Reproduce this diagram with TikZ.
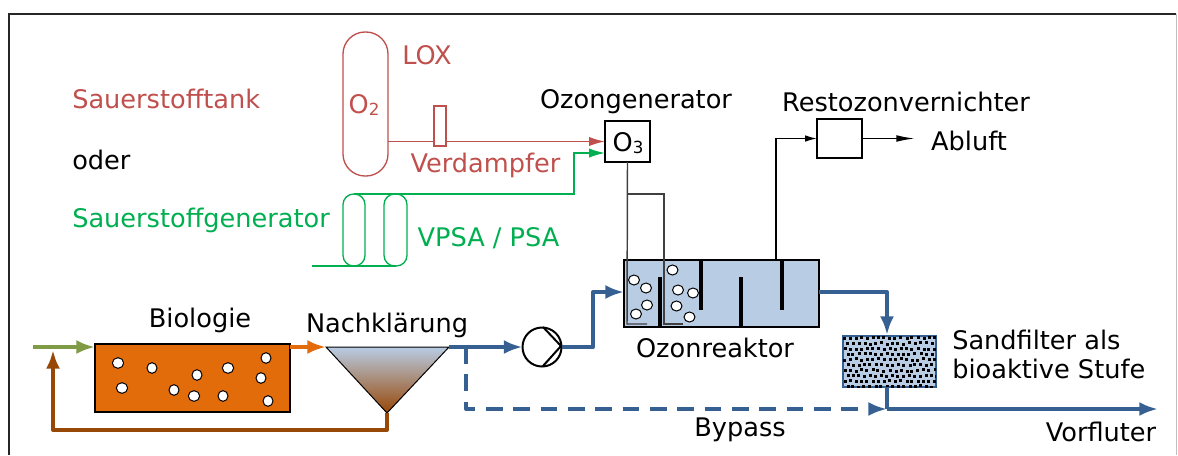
\documentclass[tikz,border=0pt]{standalone}
\usepackage{fontspec}
\setmainfont{DejaVu Sans}
\usetikzlibrary{arrows.meta,calc,shapes.geometric}
\definecolor{ozred}{HTML}{C0504D}
\definecolor{ozgreen}{HTML}{00B050}
\definecolor{ozblue}{HTML}{366092}
\definecolor{ozlight}{HTML}{B8CCE4}
\definecolor{ozorange}{HTML}{E36C0A}
\definecolor{ozbrown}{HTML}{974706}
\definecolor{ozolive}{HTML}{7F9B45}
\newcommand{\lowdigit}[1]{\raisebox{-1pt}{\fontsize{12.5pt}{14pt}\selectfont #1}}
\tikzset{
  lab/.style={inner sep=0pt,font=\fontsize{19.2pt}{23pt}\selectfont,text=#1},
  lab/.default=black,
  box/.style={draw=black,line width=1pt,inner sep=0pt,outer sep=0pt},
  thinarrow/.style={line width=1.1pt,-{Latex[length=12pt,width=7pt]}},
  pipe/.style={line width=3pt,line join=round,draw=ozblue},
  pipearrow/.style={pipe,-{Latex[length=14pt,width=10.5pt]}},
  gasline/.style={line width=1.1pt,draw=black!75},
  baffle/.style={line width=3pt,draw=black},
  bubble/.style={draw=black,fill=white,line width=.75pt,ellipse,inner sep=0pt},
}
\begin{document}
\begin{tikzpicture}[x=.75pt,y=-.75pt]
\useasboundingbox (0,0) rectangle (1178,455);
\fill[white] (0,0) rectangle (1178,455);
% frame
\draw[line width=1.5pt,black!85] (8.5,455) -- (8.5,13.5) -- (1176,13.5);
\draw[line width=.75pt,black!25] (1176,13.5) -- (1176,455);

% oxygen tank
\node[box,draw=ozred,minimum width=33.75pt,minimum height=108pt,rounded corners=16.5pt] (tank) at (365.5,104) {};
\node[lab=ozred] (o2) at (364,105) {O\lowdigit{2}};
\node[lab=ozred,anchor=west] (lox) at (402,55) {LOX};
\node[box,draw=ozred,fill=white,minimum width=9pt,minimum height=30pt] (verd) at (440,126) {};
\node[lab=ozred] (verdl) at (485.5,165) {Verdampfer};
\node[lab=ozred,anchor=west] (st) at (72,99) {Sauerstofftank};
\node[lab,anchor=west] (oder) at (72,160) {oder};
\node[lab=ozgreen,anchor=west] (sg) at (72,220) {Sauerstoffgenerator};
\node[lab=ozgreen] (vpsa) at (488.5,238) {VPSA / PSA};

% ozone generator
\node[box,minimum width=33.75pt,minimum height=30.75pt] (o3) at (627.5,141.5) {};
\node[lab] (o3t) at (628,143) {O\lowdigit{3}};
\node[lab] (ogl) at (636,102) {Ozongenerator};
\draw[ozred,line width=1.1pt] (tank.east |- o3.west) -- (verd.west |- o3.west);
\draw[ozred,thinarrow] (verd.east |- o3.west) -- (o3.west);

% PSA columns
\node[box,draw=ozgreen,minimum width=16.5pt,minimum height=54pt,rounded corners=8pt] (c1) at (354,230) {};
\node[box,draw=ozgreen,minimum width=17.25pt,minimum height=54pt,rounded corners=8pt] (c2) at (395.5,230) {};
\coordinate (gturn) at (574,194);
\coordinate (gturn2) at (574,153);
\coordinate (gfoot) at (312,266);
\draw[ozgreen,line width=1.1pt] (gfoot) -- (c2.south);
\draw[ozgreen,thinarrow] (c1.north) -- (gturn) -- (gturn2) -- (o3.west |- gturn2);

% reactor
\node[box,fill=ozlight,minimum width=146.25pt,minimum height=50.25pt] (reactor) at (721.5,293.5) {};
\coordinate (g1) at (627,324);
\coordinate (g1e) at (647,324);
\coordinate (g2s) at (628,194);
\coordinate (g2a) at (664,194);
\coordinate (g2b) at (664,324);
\coordinate (g2e) at (683,324);
\draw[gasline] (o3.south) -- (g1) -- (g1e);
\draw[gasline] (g2s) -- (g2a) -- (g2b) -- (g2e);
\foreach \n/\x/\ya/\yb in {b1/659.5/277/327,b2/700.5/260/310,b3/741/277/327,b4/782/260/310}{
  \coordinate (\n a) at (\x,\ya);
  \coordinate (\n b) at (\x,\yb);
  \draw[baffle] (\n a) -- (\n b);
}
\foreach \n/\x/\y in {r1/634/280,r2/646/288,r3/647/305,r4/636/314,r5/672.5/270,r6/678/290,r7/693/293,r8/676.5/306,r9/689.5/317}{
  \node[bubble,minimum width=8.25pt,minimum height=7.5pt] (\n) at (\x,\y) {};
}
\node[lab] (ozr) at (715,348) {Ozonreaktor};

% residual ozone destructor
\node[box,minimum width=33.75pt,minimum height=29.25pt] (rest) at (839.5,138.5) {};
\node[lab] (restl) at (906,102) {Restozonvernichter};
\node[lab] (abluft) at (969,141) {Abluft};
\coordinate (rup) at (776,260);
\coordinate (abtip) at (915,138.5);
\draw[gasline,black,-{Latex[length=9pt,width=5pt]}] (rup) -- (rup |- rest.west) -- (rest.west);
\draw[gasline,black,-{Latex[length=14pt,width=5pt]}] (rest.east) -- (abtip);

% biology
\coordinate (inflow) at (33,347);
\node[box,fill=ozorange,minimum width=146.25pt,minimum height=51pt] (bio) at (192.5,378) {};
\node[lab] (biol) at (200,320) {Biologie};
\draw[ozolive,line width=3pt,-{Latex[length=14pt,width=10.5pt]}] (inflow) -- (inflow -| bio.west);
\foreach \n/\x/\y/\w in {a1/118/363/8.5,a2/152/368/7.5,a3/197/375/7.5,a4/228/368/8.5,a5/266/358/7.5,a6/122/388/8.5,a7/174/390/7.5,a8/194/396/8.5,a9/223/396/7.5,a10/261/378/7.5,a11/268/401/7.5}{
  \node[bubble,minimum width=\w pt,minimum height=8pt] (\n) at (\x,\y) {};
}

% clarifier
\coordinate (tl) at (326,347);
\coordinate (tr) at (449,347);
\coordinate (ta) at (387,413);
\shade[top color=ozlight,middle color=ozlight!70!white!95!blue,bottom color=ozbrown,shading angle=0] (tl) -- (tr) -- (ta) -- cycle;
\draw[line width=.75pt,line join=miter] (tl) -- (tr) -- (ta) -- cycle;
\node[lab] (nkl) at (387,325) {Nachklärung};
\draw[ozorange,line width=3pt,-{Latex[length=14pt,width=10.5pt]}] (bio.east |- tl) -- (tl);
\coordinate (rs1) at (387,430);
\coordinate (rs2) at (53,430);
\coordinate (rs3) at (53,350);
\draw[ozbrown,line width=3pt,line join=round,-{Latex[length=14pt,width=10.5pt]}] (ta) -- (rs1) -- (rs2) -- (rs3);

% pump and pipes
\node[circle,draw=black,line width=1.5pt,minimum size=29.25pt,inner sep=0pt,outer sep=0pt] (pump) at (542,347) {};
\coordinate (pu1) at (543,327);
\coordinate (pu2) at (561,346);
\coordinate (pu3) at (543,366);
\draw[line width=1.5pt,line join=miter] (pu1) -- (pu2) -- (pu3);
\draw[pipearrow] (tr) -- (pump.west);
\coordinate (p1) at (593,347);
\coordinate (p2) at (593,292);
\draw[pipearrow] (pump.east) -- (p1) -- (p2) -- (reactor.west |- p2);
\coordinate (p3) at (887,292);
\draw[pipearrow] (reactor.east |- p3) -- (p3) -- (p3 |- 0,335);

% sand filter
\node[box,draw=ozblue,fill=ozlight,minimum width=69.75pt,minimum height=38.25pt] (sand) at (889.5,361.5) {};
\pgfmathsetseed{7}
\begin{scope}
\clip (sand.south west) rectangle (sand.north east);
\foreach \i in {0,...,16}{
  \foreach \j in {0,...,9}{
    \pgfmathsetmacro{\dx}{845+\i*5.6+mod(\j,2)*2.8+rand*0.8}
    \pgfmathsetmacro{\dy}{338+\j*5.4+rand*0.8}
    \fill[black] (\dx-1.5,\dy-1.5) rectangle (\dx+1.5,\dy+1.5);
  }
}
\end{scope}
\node[lab,anchor=base west] (sandl1) at (952,349) {Sandfilter als};
\node[lab,anchor=base west] (sandl2) at (952,378) {bioaktive Stufe};

% effluent
\coordinate (junction) at (887,409);
\coordinate (outlet) at (1158,409);
\coordinate (by1) at (466,347);
\coordinate (by2) at (466,409);
\draw[pipe] (sand.south -| junction) -- (junction);
\draw[pipearrow] (junction) -- (outlet);
\draw[pipearrow,dash pattern=on 12.5pt off 8pt] (by1) -- (by2) -- (junction);
\node[lab] (bypass) at (740,430) {Bypass};
\node[lab] (vorf) at (1101,432) {Vorfluter};
\end{tikzpicture}
\end{document}
